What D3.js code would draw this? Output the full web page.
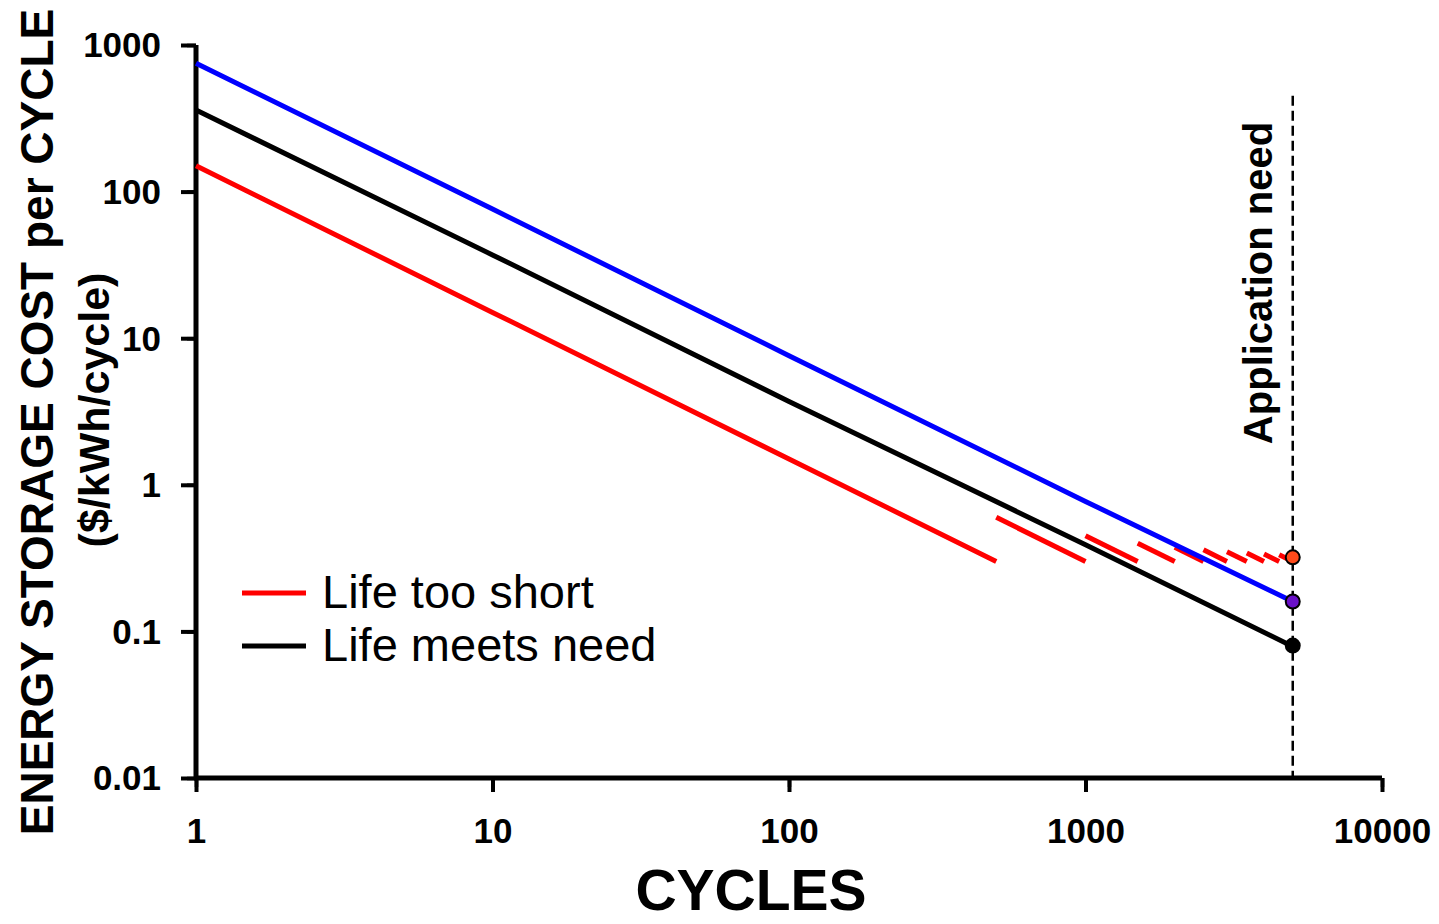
<!DOCTYPE html>
<html>
<head>
<meta charset="utf-8">
<script src="https://cdn.jsdelivr.net/npm/d3@7"></script>
<style>
  body { margin: 0; background: #fff; }
  text { font-family: "Liberation Sans", Arial, sans-serif; }
</style>
</head>
<body>
<div id="chart"></div>
<script>
// Cost per cycle (cycles, $/kWh/cycle)
var blueLine = [[1, 750], [10, 76], [100, 7.6], [1000, 0.77], [5000, 0.16]];
var blackLine = [[1, 360], [10, 37], [100, 3.7], [1000, 0.39], [5000, 0.079]];
var redLine = [[1, 150], [10, 15], [100, 1.5], [500, 0.3]];
// replacement pieces after the first unit wears out
var redStarts = [500, 1000, 1500, 2000, 2500, 3000, 3500, 4000, 4500];
var redStartVals = [0.6, 0.45, 0.4, 0.375, 0.36, 0.35, 0.343, 0.337, 0.333];
var redEndVal = 0.3;
var needCycles = 5000;
var endPoints = [
  {v: 0.32, fill: "#ff4a1a"},
  {v: 0.16, fill: "#6a10c8"},
  {v: 0.08, fill: "#000"}
];
var xTicks = [1, 10, 100, 1000, 10000];
var yTicks = [0.01, 0.1, 1, 10, 100, 1000];
var yLabels = ["0.01", "0.1", "1", "10", "100", "1000"];

var width = 1439, height = 924;

var svg = d3.select("#chart")
  .append("svg")
    .attr("width", width)
    .attr("height", height);

var x = d3.scaleLog().domain([1, 10000]).range([196, 1382]);
var y = d3.scaleLog().domain([0.01, 1000]).range([778, 45]);

// minor ticks
svg.append("g")
    .attr("transform", "translate(0,778)")
    .call(d3.axisBottom(x).ticks(4).tickSize(9).tickFormat(""))
    .call(function(g) { g.select(".domain").remove(); })
    .selectAll("line").attr("stroke-width", 3.5);
svg.append("g")
    .attr("transform", "translate(196,0)")
    .call(d3.axisLeft(y).ticks(5).tickSize(9).tickFormat(""))
    .call(function(g) { g.select(".domain").remove(); })
    .selectAll("line").attr("stroke-width", 3.5);

// major ticks + labels
var xAxis = svg.append("g")
    .attr("transform", "translate(0,778)")
    .call(d3.axisBottom(x).tickValues(xTicks).tickSize(14).tickPadding(26)
      .tickFormat(d3.format("d")));
xAxis.select(".domain").remove();
xAxis.selectAll("line").attr("stroke-width", 4);
xAxis.selectAll("text")
    .attr("font-size", 35).attr("font-weight", "bold")
    .attr("font-family", "'Liberation Sans', Arial, sans-serif");

var yAxis = svg.append("g")
    .attr("transform", "translate(196,0)")
    .call(d3.axisLeft(y).tickValues(yTicks).tickSize(15).tickPadding(20)
      .tickFormat(function(d, i) { return yLabels[i]; }));
yAxis.select(".domain").remove();
yAxis.selectAll("line").attr("stroke-width", 4);
yAxis.selectAll("text")
    .attr("font-size", 35).attr("font-weight", "bold")
    .attr("dy", "0.34em")
    .attr("font-family", "'Liberation Sans', Arial, sans-serif");

// axis lines
svg.append("line")
    .attr("x1", x(1)).attr("x2", x(1))
    .attr("y1", y(1000)).attr("y2", y(0.01))
    .attr("stroke", "#000").attr("stroke-width", 5);
svg.append("line")
    .attr("x1", x(1) - 2).attr("x2", x(10000))
    .attr("y1", y(0.01)).attr("y2", y(0.01))
    .attr("stroke", "#000").attr("stroke-width", 5);

// application need
svg.append("line")
    .attr("x1", x(needCycles)).attr("x2", x(needCycles))
    .attr("y1", y(450)).attr("y2", y(0.01))
    .attr("stroke", "#000").attr("stroke-width", 2.5)
    .attr("stroke-dasharray", "10,5");

svg.append("text")
    .attr("transform", "translate(1272,283) rotate(-90)")
    .attr("text-anchor", "middle")
    .attr("font-size", 40).attr("font-weight", "bold")
    .text("Application need");

var line = d3.line()
    .x(function(d) { return x(d[0]); })
    .y(function(d) { return y(d[1]); });

svg.append("path").datum(redLine)
    .attr("d", line).attr("fill", "none")
    .attr("stroke", "#ff0000").attr("stroke-width", 5);

svg.selectAll(".piece")
  .data(redStarts)
  .enter()
  .append("path")
    .attr("class", "piece")
    .attr("d", function(d, i) { return line([[d, redStartVals[i]], [d + 500, redEndVal]]); })
    .attr("fill", "none")
    .attr("stroke", "#ff0000").attr("stroke-width", 5);

svg.append("path").datum(blackLine)
    .attr("d", line).attr("fill", "none")
    .attr("stroke", "#000").attr("stroke-width", 5);

svg.append("path").datum(blueLine)
    .attr("d", line).attr("fill", "none")
    .attr("stroke", "#0000ff").attr("stroke-width", 5);

svg.selectAll(".endpt")
  .data(endPoints)
  .enter()
  .append("circle")
    .attr("class", "endpt")
    .attr("cx", x(needCycles))
    .attr("cy", function(d) { return y(d.v); })
    .attr("r", 7)
    .attr("fill", function(d) { return d.fill; })
    .attr("stroke", "#000").attr("stroke-width", 2);

// legend
var legend = [{label: "Life too short", color: "#ff0000"}, {label: "Life meets need", color: "#000"}];
var lg = svg.selectAll(".leg")
  .data(legend)
  .enter()
  .append("g")
    .attr("transform", function(d, i) { return "translate(242," + (593 + i * 53) + ")"; });
lg.append("line")
    .attr("x1", 0).attr("x2", 64)
    .attr("stroke", function(d) { return d.color; })
    .attr("stroke-width", 5);
lg.append("text")
    .attr("x", 80).attr("y", 15)
    .attr("font-size", 47)
    .text(function(d) { return d.label; });

// axis titles
svg.append("text")
    .attr("x", 751).attr("y", 910)
    .attr("text-anchor", "middle")
    .attr("font-size", 57).attr("font-weight", "bold")
    .text("CYCLES");

svg.append("text")
    .attr("transform", "translate(53,422) rotate(-90)")
    .attr("text-anchor", "middle")
    .attr("font-size", 46).attr("font-weight", "bold")
    .text("ENERGY STORAGE COST per CYCLE");

svg.append("text")
    .attr("transform", "translate(109,410) rotate(-90)")
    .attr("text-anchor", "middle")
    .attr("font-size", 43).attr("font-weight", "bold")
    .text("($/kWh/cycle)");
</script>
</body>
</html>
